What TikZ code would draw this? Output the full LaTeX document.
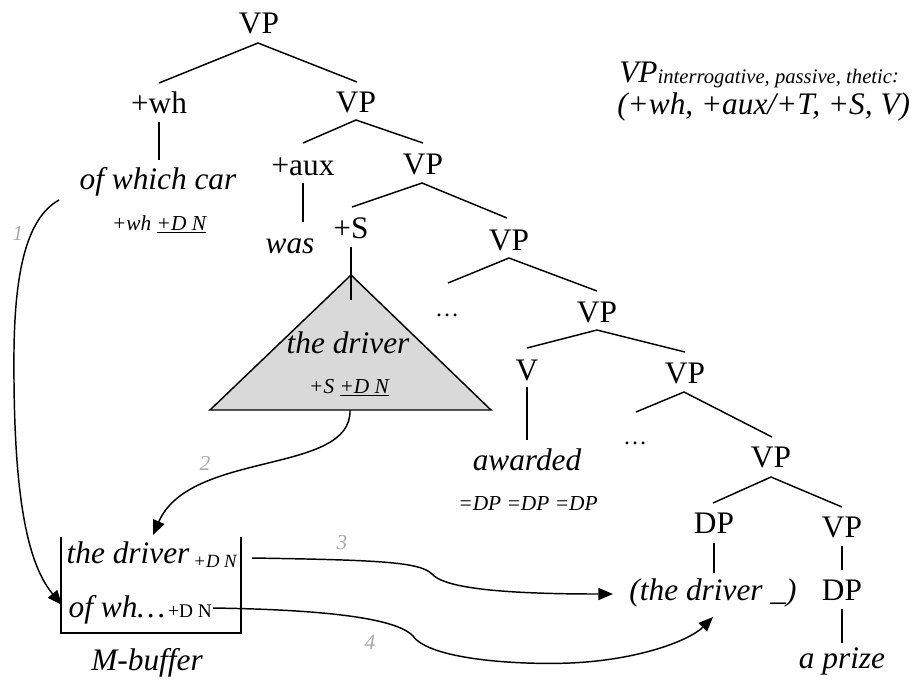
\documentclass[tikz,border=0pt]{standalone}
\usepackage{fontspec}
\setmainfont{Liberation Serif}
\usetikzlibrary{arrows.meta}
\definecolor{numgray}{RGB}{170,170,170}
\definecolor{trigray}{RGB}{217,217,217}
\begin{document}
\begin{tikzpicture}[x=0.75pt,y=-0.75pt,
  lbl/.style={inner sep=0pt, anchor=base, font=\fontsize{23.5}{28}\selectfont},
  ilbl/.style={inner sep=0pt, anchor=base, font=\fontsize{23.5}{28}\selectfont\itshape},
  feat/.style={inner sep=0pt, anchor=base, font=\fontsize{16}{19}\selectfont\itshape},
  subf/.style={inner sep=0pt, anchor=base, font=\fontsize{14}{17}\selectfont\itshape},
  subu/.style={inner sep=0pt, anchor=base, font=\fontsize{14.5}{17}\selectfont},
  dots/.style={inner sep=0pt, anchor=base, font=\fontsize{18}{20}\selectfont},
  num/.style={inner sep=0pt, font=\fontsize{16}{19}\selectfont\itshape, text=numgray},
  branch/.style={line width=1.1pt},
  arr/.style={line width=1.1pt, -{Triangle[length=11pt,width=9pt]}},
]
\useasboundingbox (0,0) rectangle (919,679);

% triangle
\coordinate (tA) at (351,275);
\coordinate (tB) at (210,410);
\coordinate (tC) at (491,410);
\draw[line width=1.1pt, fill=trigray, line join=miter] (tA) -- (tB) -- (tC) -- cycle;

% tree labels
\node[lbl] (vp1) at (259,33) {VP};
\node[lbl] (wh) at (159,113) {+wh};
\node[lbl] (vp2) at (356,112) {VP};
\node[ilbl] (owc) at (158,189) {of which car};
\node[feat] (owcf) at (159,230) {+wh \underline{+D N}};
\node[lbl] (aux) at (303,175) {+aux};
\node[lbl] (vp3) at (423,174) {VP};
\node[ilbl] (was) at (290,253) {was};
\node[lbl] (S) at (351,238) {+S};
\node[lbl] (vp4) at (509,250) {VP};
\node[ilbl] (drv) at (348,353) {the driver};
\node[feat] (drvf) at (349,393) {+S \underline{+D N}};
\node[dots] (dots1) at (447,316) {…};
\node[lbl] (vp5) at (597,322) {VP};
\node[lbl] (V) at (527,380) {V};
\node[lbl] (vp6) at (685,383) {VP};
\node[ilbl] (awd) at (527,470) {awarded};
\node[feat] (awdf) at (528,510) {=DP =DP =DP};
\node[dots] (dots2) at (635,444) {…};
\node[lbl] (vp7) at (771,467) {VP};
\node[lbl] (dp1) at (714,533) {DP};
\node[lbl] (vp8) at (842,537) {VP};
\node[ilbl] (trace) at (713,600) {(the driver \_)};
\node[lbl] (dp2) at (842,600) {DP};
\node[ilbl] (prize) at (842,668) {a prize};

% top-right formula
\node[inner sep=0pt, anchor=base west, font=\fontsize{23.5}{28}\selectfont\itshape] (f1) at (619,82)
  {VP\raisebox{-0.1ex}{\fontsize{15.5}{18}\selectfont interrogative, passive, thetic}{\fontsize{15.5}{18}\selectfont:}};
\node[inner sep=0pt, anchor=base west, font=\fontsize{23.5}{28}\selectfont\itshape] (f2) at (617,114)
  {(+wh, +aux/+T, +S, V)};

% branch coordinates
\coordinate (p1) at (258,43);  \coordinate (c1a) at (159,83);  \coordinate (c1b) at (357,82);
\coordinate (p2) at (356,120); \coordinate (c2a) at (303,143); \coordinate (c2b) at (423,143);
\coordinate (p3) at (422,183); \coordinate (c3a) at (352,207); \coordinate (c3b) at (507,218);
\coordinate (p4) at (509,258); \coordinate (c4a) at (448,283); \coordinate (c4b) at (597,291);
\coordinate (p5) at (597,330); \coordinate (c5a) at (527,348); \coordinate (c5b) at (685,352);
\coordinate (p6) at (684,392); \coordinate (c6a) at (636,412); \coordinate (c6b) at (772,437);
\coordinate (p7) at (771,477); \coordinate (c7a) at (713,503); \coordinate (c7b) at (842,507);
\draw[branch] (c1a) -- (p1) -- (c1b);
\draw[branch] (c2a) -- (p2) -- (c2b);
\draw[branch] (c3a) -- (p3) -- (c3b);
\draw[branch] (c4a) -- (p4) -- (c4b);
\draw[branch] (c5a) -- (p5) -- (c5b);
\draw[branch] (c6a) -- (p6) -- (c6b);
\draw[branch] (c7a) -- (p7) -- (c7b);

% vertical branches
\coordinate (v1a) at (159,122); \coordinate (v1b) at (159,160);
\coordinate (v2a) at (303,183); \coordinate (v2b) at (303,222);
\coordinate (v3a) at (351,247); \coordinate (v3b) at (351,300);
\coordinate (v4a) at (527,387); \coordinate (v4b) at (527,440);
\coordinate (v5a) at (714,543); \coordinate (v5b) at (714,573);
\coordinate (v6a) at (842,546); \coordinate (v6b) at (842,570);
\coordinate (v7a) at (842,609); \coordinate (v7b) at (842,643);
\draw[branch] (v1a) -- (v1b);
\draw[branch] (v2a) -- (v2b);
\draw[branch] (v3a) -- (v3b);
\draw[branch] (v4a) -- (v4b);
\draw[branch] (v5a) -- (v5b);
\draw[branch] (v6a) -- (v6b);
\draw[branch] (v7a) -- (v7b);

% M-buffer
\coordinate (b1) at (61,537); \coordinate (b2) at (61,633);
\coordinate (b3) at (241,633); \coordinate (b4) at (241,537);
\draw[line width=1.1pt, line join=miter] (b1) -- (b2) -- (b3) -- (b4);
\node[ilbl] (bd) at (128,563) {the driver};
\node[subf] (bdf) at (215,567) {+D N};
\node[ilbl] (ow) at (117,617) {of wh…};
\node[subu] (owf) at (190,617) {+D N};
\node[ilbl] (mb) at (147,670) {M-buffer};

% arrows
\coordinate (a1s) at (59,200);  \coordinate (a1e) at (62,605);
\draw[arr] (a1s) .. controls (27,218) and (15,270) .. (14,350) .. controls (13,480) and (24,560) .. (a1e);
\coordinate (a2s) at (350,410); \coordinate (a2e) at (153,535);
\draw[arr] (a2s) .. controls (352,475) and (190,450) .. (a2e);
\coordinate (a3s) at (252,558); \coordinate (a3e) at (613,594);
\draw[arr] (a3s) .. controls (380,560) and (420,562) .. (432,574) .. controls (442,585) and (480,594) .. (a3e);
\coordinate (a4s) at (213,608); \coordinate (a4e) at (713,617);
\draw[arr] (a4s) .. controls (350,610) and (400,622) .. (413,636) .. controls (430,660) and (520,665) .. (570,663) .. controls (640,660) and (690,640) .. (a4e);

% numbers
\node[num] (n1) at (18,233) {1};
\node[num] (n2) at (205,463) {2};
\node[num] (n3) at (342,543) {3};
\node[num] (n4) at (370,642) {4};
\end{tikzpicture}
\end{document}
